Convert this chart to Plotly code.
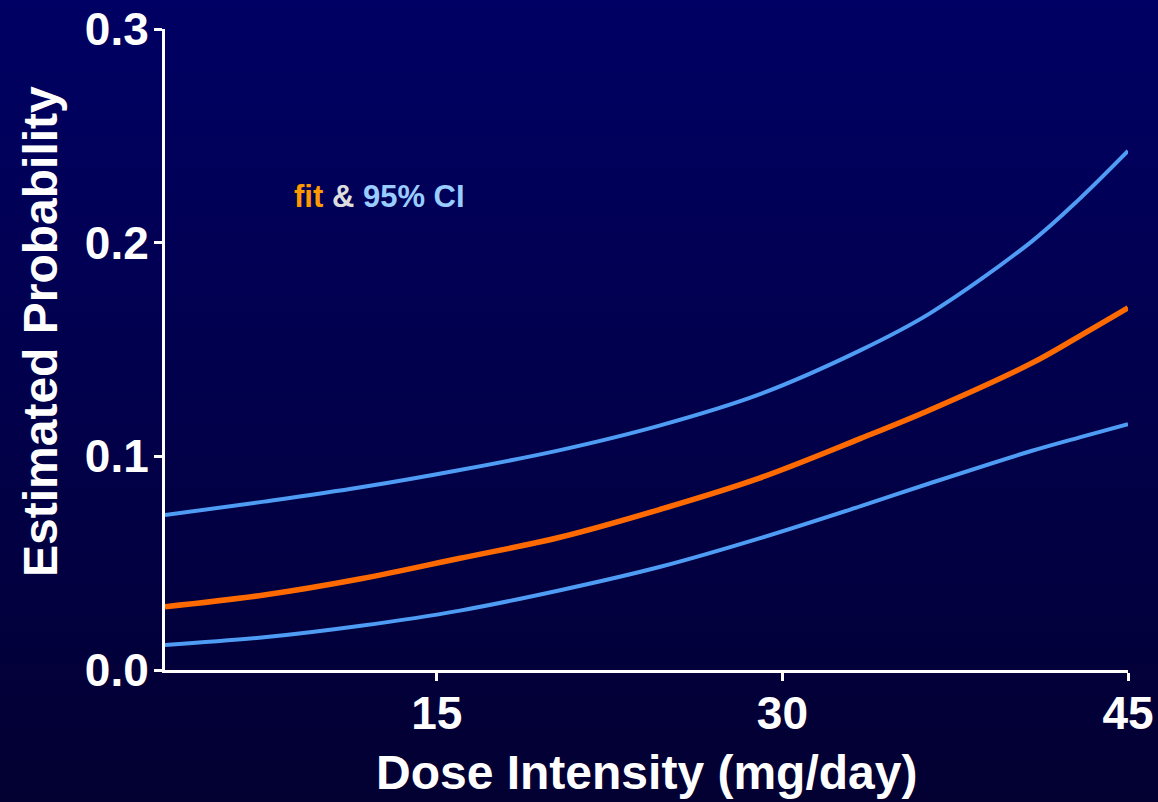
import plotly.graph_objects as go

# Dose intensity (mg/day) at which the curves are sampled
dose_fit = [3.2, 7.5, 11.7, 16.0, 20.3, 24.7, 29.0, 33.4, 36.4, 40.8, 42.9, 45.0]
fit = [0.0296, 0.0351, 0.0427, 0.0523, 0.0620, 0.0752, 0.0898, 0.1084, 0.1217, 0.1435, 0.1563, 0.1695]

dose_ci = [3.2, 7.5, 11.7, 16.0, 20.3, 24.7, 29.0, 33.4, 36.4, 40.8, 42.9, 45.0]
ci_upper = [0.0725, 0.0788, 0.0855, 0.0936, 0.1028, 0.1145, 0.1290, 0.1497, 0.1669, 0.2004, 0.2205, 0.2429]
ci_lower = [0.0117, 0.0153, 0.0207, 0.0278, 0.0372, 0.0483, 0.0616, 0.0767, 0.0874, 0.1025, 0.1089, 0.1151]

x_ticks = [15, 30, 45]
x_tick_labels = ["15", "30", "45"]
y_ticks = [0.0, 0.1, 0.2, 0.3]
y_tick_labels = ["0.0", "0.1", "0.2", "0.3"]

W, H = 1158, 802
ML, MR, MT, MB = 165, 30, 29, 132
PW, PH = W - ML - MR, H - MT - MB

FONT = "Liberation Sans, Arial, sans-serif"
BLUE = "#4f9cf5"
ORANGE = "#ff6a00"

fig = go.Figure()
fig.add_trace(go.Scatter(x=dose_ci, y=ci_upper, mode="lines",
                         line=dict(color=BLUE, width=4, shape="spline", smoothing=1.0),
                         showlegend=False, hoverinfo="skip"))
fig.add_trace(go.Scatter(x=dose_ci, y=ci_lower, mode="lines",
                         line=dict(color=BLUE, width=4, shape="spline", smoothing=1.0),
                         showlegend=False, hoverinfo="skip"))
fig.add_trace(go.Scatter(x=dose_fit, y=fit, mode="lines",
                         line=dict(color=ORANGE, width=5.5, shape="spline", smoothing=1.0),
                         showlegend=False, hoverinfo="skip"))


def px_to_paper_x(px):
    return (px - ML) / PW


def px_to_paper_y(py):
    return (H - MB - py) / PH


# vertical navy gradient behind the whole figure
shapes = []
n = 100
top = (0, 0, 100)
bot = (3, 0, 50)
for i in range(n):
    y0 = H * i / n
    y1 = H * (i + 1) / n + 1
    t = (i + 0.5) / n
    c = tuple(round(top[k] + (bot[k] - top[k]) * t) for k in range(3))
    shapes.append(dict(type="rect", xref="paper", yref="paper", layer="below",
                       x0=px_to_paper_x(-2), x1=px_to_paper_x(W + 2),
                       y0=px_to_paper_y(y1), y1=px_to_paper_y(y0 - 1),
                       fillcolor="rgb(%d,%d,%d)" % c, line=dict(width=0)))

annotations = [
    dict(text="<span style='color:#ff9900'>fit</span> "
              "<span style='color:#dddddd'>&</span> "
              "<span style='color:#99ccff'>95% CI</span>",
         xref="paper", yref="paper", x=px_to_paper_x(292), y=px_to_paper_y(197),
         xanchor="left", yanchor="middle", showarrow=False,
         font=dict(family=FONT, size=31, weight="bold")),
    dict(text="Estimated Probability", textangle=-90,
         xref="paper", yref="paper", x=px_to_paper_x(40), y=px_to_paper_y(332),
         xanchor="center", yanchor="middle", showarrow=False,
         font=dict(family=FONT, size=48, color="white", weight="bold")),
    dict(text="Dose Intensity (mg/day)",
         xref="paper", yref="paper", x=px_to_paper_x(646), y=px_to_paper_y(772),
         xanchor="center", yanchor="middle", showarrow=False,
         font=dict(family=FONT, size=48, color="white", weight="bold")),
]

axis_common = dict(showline=True, linewidth=3, linecolor="white",
                   ticks="outside", ticklen=8, tickwidth=3, tickcolor="white",
                   showgrid=False, zeroline=False, automargin=False,
                   tickfont=dict(family=FONT, size=46, color="white", weight="bold"))

fig.update_layout(
    width=W, height=H, autosize=False,
    margin=dict(l=ML, r=MR, t=MT, b=MB, autoexpand=False),
    paper_bgcolor="#00003c",
    plot_bgcolor="rgba(0,0,0,0)",
    xaxis=dict(range=[3.2, 45], tickvals=x_ticks, ticktext=x_tick_labels,
               ticklabelstandoff=-7, **axis_common),
    yaxis=dict(range=[0, 0.3], tickvals=y_ticks, ticktext=y_tick_labels,
               ticklabelstandoff=-4, **axis_common),
    shapes=shapes,
    annotations=annotations,
)

fig.write_html(
    "out.html",
    config={"displayModeBar": False},
    post_script="document.body.style.margin='0';"
                "document.body.style.overflow='hidden';"
                "document.body.style.background='#00003c';",
)
